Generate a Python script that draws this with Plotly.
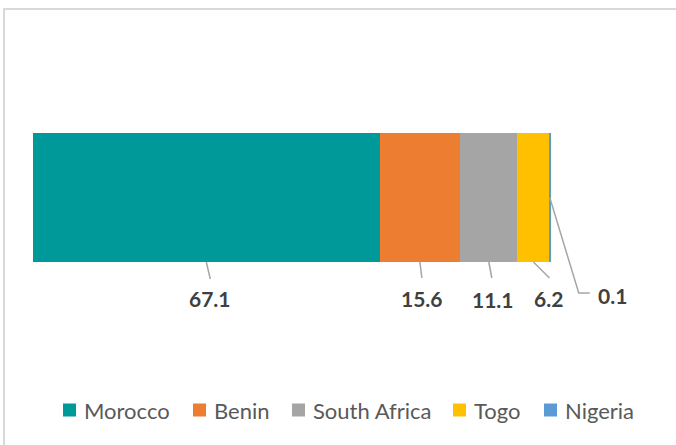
import plotly.graph_objects as go

countries = ["Morocco", "Benin", "South Africa", "Togo", "Nigeria"]
values = [67.1, 15.6, 11.1, 6.2, 0.1]
colors = ["#009999", "#ED7D31", "#A5A5A5", "#FFC000", "#5B9BD5"]
labels = ["67.1", "15.6", "11.1", "6.2", "0.1"]

W, H = 676, 445
px_per_unit = 5.165
x_left = 33
bar_top, bar_bot = 133, 262
bar_h = bar_bot - bar_top

fig = go.Figure()
for c, v, col in zip(countries, values, colors):
    fig.add_trace(go.Bar(x=[v], y=[0], name=c, orientation="h", width=1,
                         marker=dict(color=col, line=dict(width=0)),
                         hoverinfo="skip", showlegend=False))

# label offsets (pixels) and leader-line paths (pixels relative to anchor)
label_shift = [(4, -36), (2, -36), (4, -37), (15.5, -36), (63, -97.5)]
leader = ["M0,0L4,-17", "M0,0L2,-16", "M0,0L3,-16", "M0,0L16,-16",
          "M0,0L29,-95.5L40,-95.5"]
anchor_y = [-0.5, -0.5, -0.5, -0.5, 0.0]

cum = 0
for i, v in enumerate(values):
    center = cum + v / 2
    cum += v
    fig.add_shape(type="path", xref="x", yref="y", xsizemode="pixel", ysizemode="pixel",
                  xanchor=center, yanchor=anchor_y[i], path=leader[i],
                  line=dict(color="#A6A6A6", width=1.5))
    fig.add_annotation(x=center, y=anchor_y[i], xref="x", yref="y", text=labels[i],
                       showarrow=False, xshift=label_shift[i][0], yshift=label_shift[i][1],
                       xanchor="center", yanchor="middle",
                       font=dict(family="Lato", size=21, color="#404040", weight="bold"))

# legend (drawn as swatches + text)
legend_x = [63, 193, 292, 453, 544]
legend_yc = 410
sw = 13
for c, col, lx in zip(countries, colors, legend_x):
    fig.add_shape(type="rect", xref="paper", yref="paper",
                  x0=lx / W, x1=(lx + sw) / W,
                  y0=1 - (legend_yc + sw / 2) / H, y1=1 - (legend_yc - sw / 2) / H,
                  fillcolor=col, line=dict(width=0))
    fig.add_annotation(x=(lx + sw + 6) / W, y=1 - legend_yc / H, xref="paper", yref="paper",
                       text=c, showarrow=False, xanchor="left", yanchor="middle",
                       font=dict(family="Lato", size=22, color="#595959"))

# chart frame
fig.add_shape(type="rect", xref="paper", yref="paper", x0=4 / W, x1=1.2,
              y0=-0.2, y1=1 - 9 / H, line=dict(color="#D9D9D9", width=2), layer="below")

ymax = 0.5 + bar_top / bar_h
ymin = -0.5 - (H - bar_bot) / bar_h
fig.update_layout(
    width=W, height=H,
    margin=dict(l=0, r=0, t=0, b=0),
    paper_bgcolor="white", plot_bgcolor="white",
    barmode="stack", bargap=0,
    xaxis=dict(range=[-x_left / px_per_unit, (W - x_left) / px_per_unit], visible=False, fixedrange=True),
    yaxis=dict(range=[ymin, ymax], visible=False, fixedrange=True),
    showlegend=False,
    hovermode=False,
)
fig.write_html("out.html", config={"displayModeBar": False},
               post_script="document.body.style.margin='0';")
